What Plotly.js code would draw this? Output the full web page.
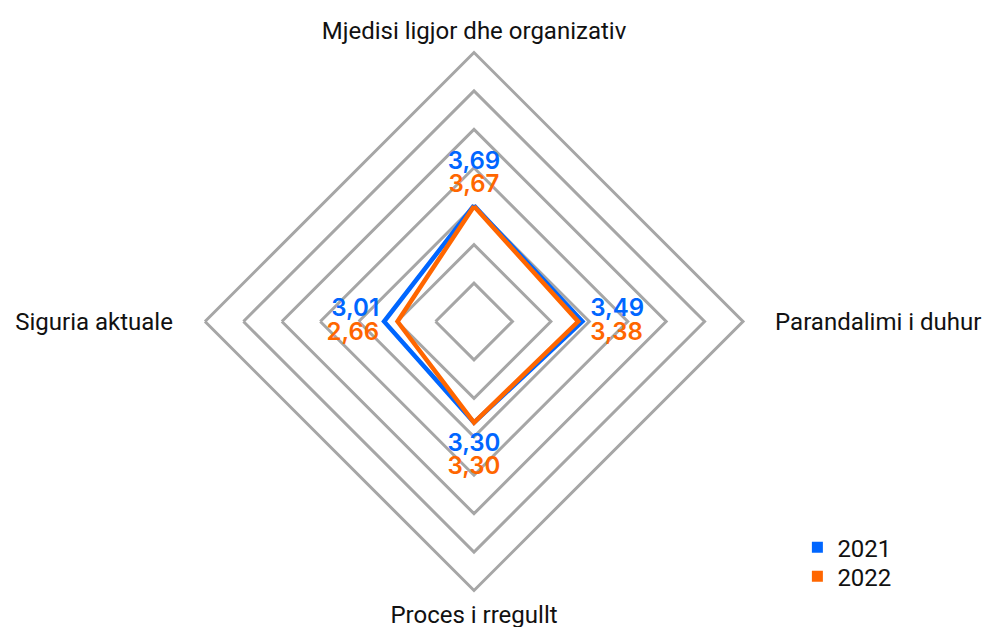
<!DOCTYPE html>
<html>
<head>
<meta charset="utf-8">
<script src="https://cdn.plot.ly/plotly-3.0.1.min.js"></script>
<style>html,body{margin:0;padding:0;background:#fff;}#chart{width:982px;height:627px;}</style>
</head>
<body>
<div id="chart"></div>
<script>
const categories = ["Mjedisi ligjor dhe organizativ", "Parandalimi i duhur", "Proces i rregullt", "Siguria aktuale"];
const seriesNames = ["2021", "2022"];
const values2021 = [3.69, 3.49, 3.30, 3.01];
const values2022 = [3.67, 3.38, 3.30, 2.66];

const BLUE = "#0066ff";
const ORANGE = "#ff6600";
const GRID = "#a6a6a6";
const R_MIN = 0.67, R_MAX = 7.67;
const RADIUS_PX = 269;
const PX = (R_MAX - R_MIN) / RADIUS_PX;      // radial units per pixel
const LABEL_STEP = 23 * PX;                   // one label line
const LABEL_GAP = [7 * PX, 8 * PX, 10 * PX, 5 * PX]; // extra outward gap per axis

function fmt(v) { return v.toFixed(2).replace(".", ","); }
function closed(a) { return a.concat([a[0]]); }

const labelR = categories.map((c, i) => Math.max(values2021[i], values2022[i]) + LABEL_GAP[i]);
// blue labels sit above orange ones
const blueR = labelR.map((r, i) => i === 0 ? r + LABEL_STEP : r);
const orangeR = labelR.map((r, i) => i === 2 ? r + LABEL_STEP : r);
const bluePos = ["top center", "top right", "bottom center", "top left"];
const orangePos = ["top center", "bottom right", "bottom center", "bottom left"];
const labelFont = (c) => ({ family: "Inter", size: 24, weight: 600, color: c });

const traces = [
  { type: "scatterpolar", mode: "lines", r: closed(values2021), theta: closed(categories),
    line: { color: BLUE, width: 4.5 }, showlegend: false, hoverinfo: "skip" },
  { type: "scatterpolar", mode: "lines", r: closed(values2022), theta: closed(categories),
    line: { color: ORANGE, width: 4.5 }, showlegend: false, hoverinfo: "skip" },
  { type: "scatterpolar", mode: "text", r: blueR, theta: categories, text: values2021.map(fmt),
    textposition: bluePos, textfont: labelFont(BLUE), showlegend: false, hoverinfo: "skip" },
  { type: "scatterpolar", mode: "text", r: orangeR, theta: categories, text: values2022.map(fmt),
    textposition: orangePos, textfont: labelFont(ORANGE), showlegend: false, hoverinfo: "skip" },
  { type: "scatterpolar", mode: "markers", r: [null], theta: [categories[0]], name: seriesNames[0],
    legend: "legend", marker: { color: BLUE, symbol: "square", size: 11 } },
  { type: "scatterpolar", mode: "markers", r: [null], theta: [categories[0]], name: seriesNames[1],
    legend: "legend2", marker: { color: ORANGE, symbol: "square", size: 11 } }
];

const pad = "\u00a0\u00a0\u00a0\u00a0";
const tickText = [categories[0], pad + categories[1], categories[2], categories[3] + pad];
const legendFont = { family: "Roboto", size: 24, color: "#111" };

const layout = {
  width: 982, height: 627,
  margin: { l: 0, r: 0, t: 0, b: 0 },
  paper_bgcolor: "#fff",
  font: { family: "Roboto", size: 24, color: "#111" },
  showlegend: true,
  legend: { x: 0.812, y: 0.1624, xanchor: "left", yanchor: "top", font: legendFont, bgcolor: "rgba(0,0,0,0)" },
  legend2: { x: 0.812, y: 0.116, xanchor: "left", yanchor: "top", font: legendFont, bgcolor: "rgba(0,0,0,0)" },
  polar: {
    domain: { x: [205 / 982, 743 / 982], y: [36.5 / 627, 574.5 / 627] },
    gridshape: "linear",
    bgcolor: "#fff",
    radialaxis: {
      range: [R_MIN, R_MAX], tick0: R_MIN, dtick: 1,
      showline: false, showticklabels: false, ticks: "",
      showgrid: true, gridcolor: GRID, gridwidth: 3
    },
    angularaxis: {
      rotation: 90, direction: "clockwise",
      tickmode: "array", tickvals: categories, ticktext: tickText,
      showline: true, linecolor: GRID, linewidth: 3,
      showgrid: false, ticks: "outside", ticklen: 2, tickcolor: "rgba(0,0,0,0)",
      tickfont: { family: "Roboto", size: 24, color: "#111" }
    }
  }
};

Plotly.newPlot("chart", traces, layout, { displayModeBar: false, staticPlot: true });
</script>
</body>
</html>
